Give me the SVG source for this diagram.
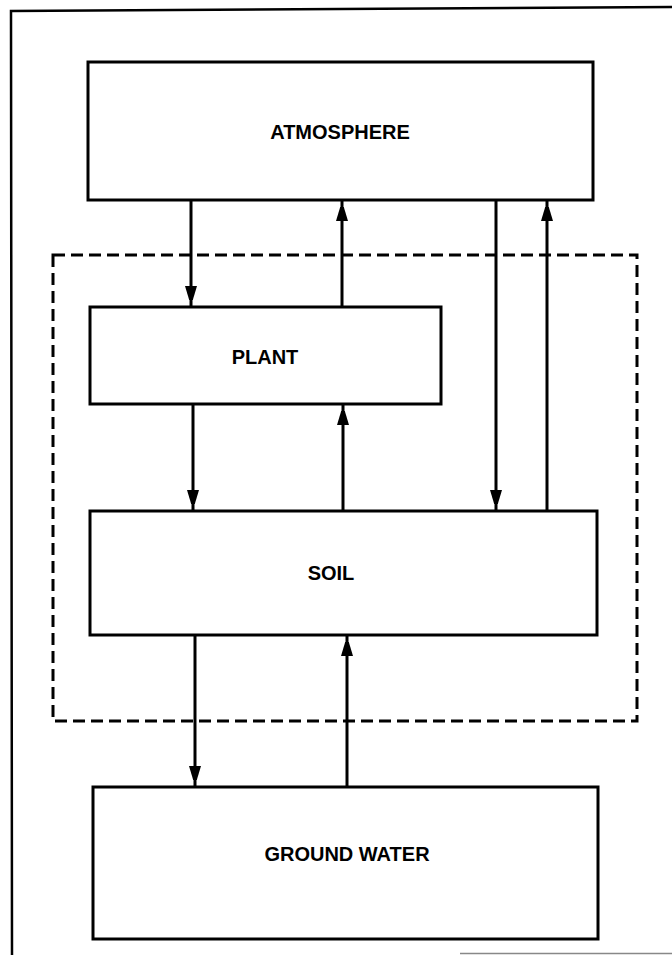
<svg xmlns="http://www.w3.org/2000/svg" width="672" height="955" viewBox="0 0 672 955">
  <style>
    .box { fill: #fff; stroke: #000; stroke-width: 3; }
    .lbl { font-family: "Liberation Sans", Arial, sans-serif; font-weight: bold; font-size: 20px; text-anchor: middle; fill: #000; }
    .arr { stroke: #000; stroke-width: 3; fill: none; marker-end: url(#ah); }
    .dash { fill: none; stroke: #000; stroke-width: 3; stroke-dasharray: 12 6; }
    .frame { fill: none; stroke: #000; stroke-width: 2.5; }
  </style>
  <defs>
    <marker id="ah" markerUnits="userSpaceOnUse" markerWidth="14" markerHeight="22" viewBox="0 0 14 22" refX="20" refY="7" orient="auto">
      <path d="M0,1 L20,7 L0,13 Z" fill="#000"/>
    </marker>
  </defs>
  <rect width="672" height="955" fill="#fff"/>
  <g id="frame">
    <polyline class="frame" points="12,955 11,11 672,7"/>
    <line x1="460" y1="953.5" x2="672" y2="953.5" stroke="#888" stroke-width="1.5"/>
  </g>
  <g id="boundary">
    <rect class="dash" x="53" y="255" width="584" height="466"/>
  </g>
  <g id="atmosphere">
    <rect class="box" x="88" y="62" width="505" height="138"/>
    <text class="lbl" x="340" y="139">ATMOSPHERE</text>
  </g>
  <g id="plant">
    <rect class="box" x="90" y="307" width="351" height="97"/>
    <text class="lbl" x="265" y="364">PLANT</text>
  </g>
  <g id="soil">
    <rect class="box" x="90" y="511" width="507" height="124"/>
    <text class="lbl" x="331" y="580">SOIL</text>
  </g>
  <g id="groundwater">
    <rect class="box" x="93" y="787" width="505" height="152"/>
    <text class="lbl" x="347" y="861">GROUND WATER</text>
  </g>
  <g id="connectors">
    <line class="arr" x1="191" y1="200" x2="191" y2="306"/>
    <line class="arr" x1="342" y1="307" x2="342" y2="201"/>
    <line class="arr" x1="496" y1="200" x2="496" y2="510"/>
    <line class="arr" x1="547" y1="511" x2="547" y2="201"/>
    <line class="arr" x1="193" y1="404" x2="193" y2="510"/>
    <line class="arr" x1="343" y1="511" x2="343" y2="405"/>
    <line class="arr" x1="195" y1="635" x2="195" y2="786"/>
    <line class="arr" x1="347" y1="787" x2="347" y2="636"/>
  </g>
</svg>
